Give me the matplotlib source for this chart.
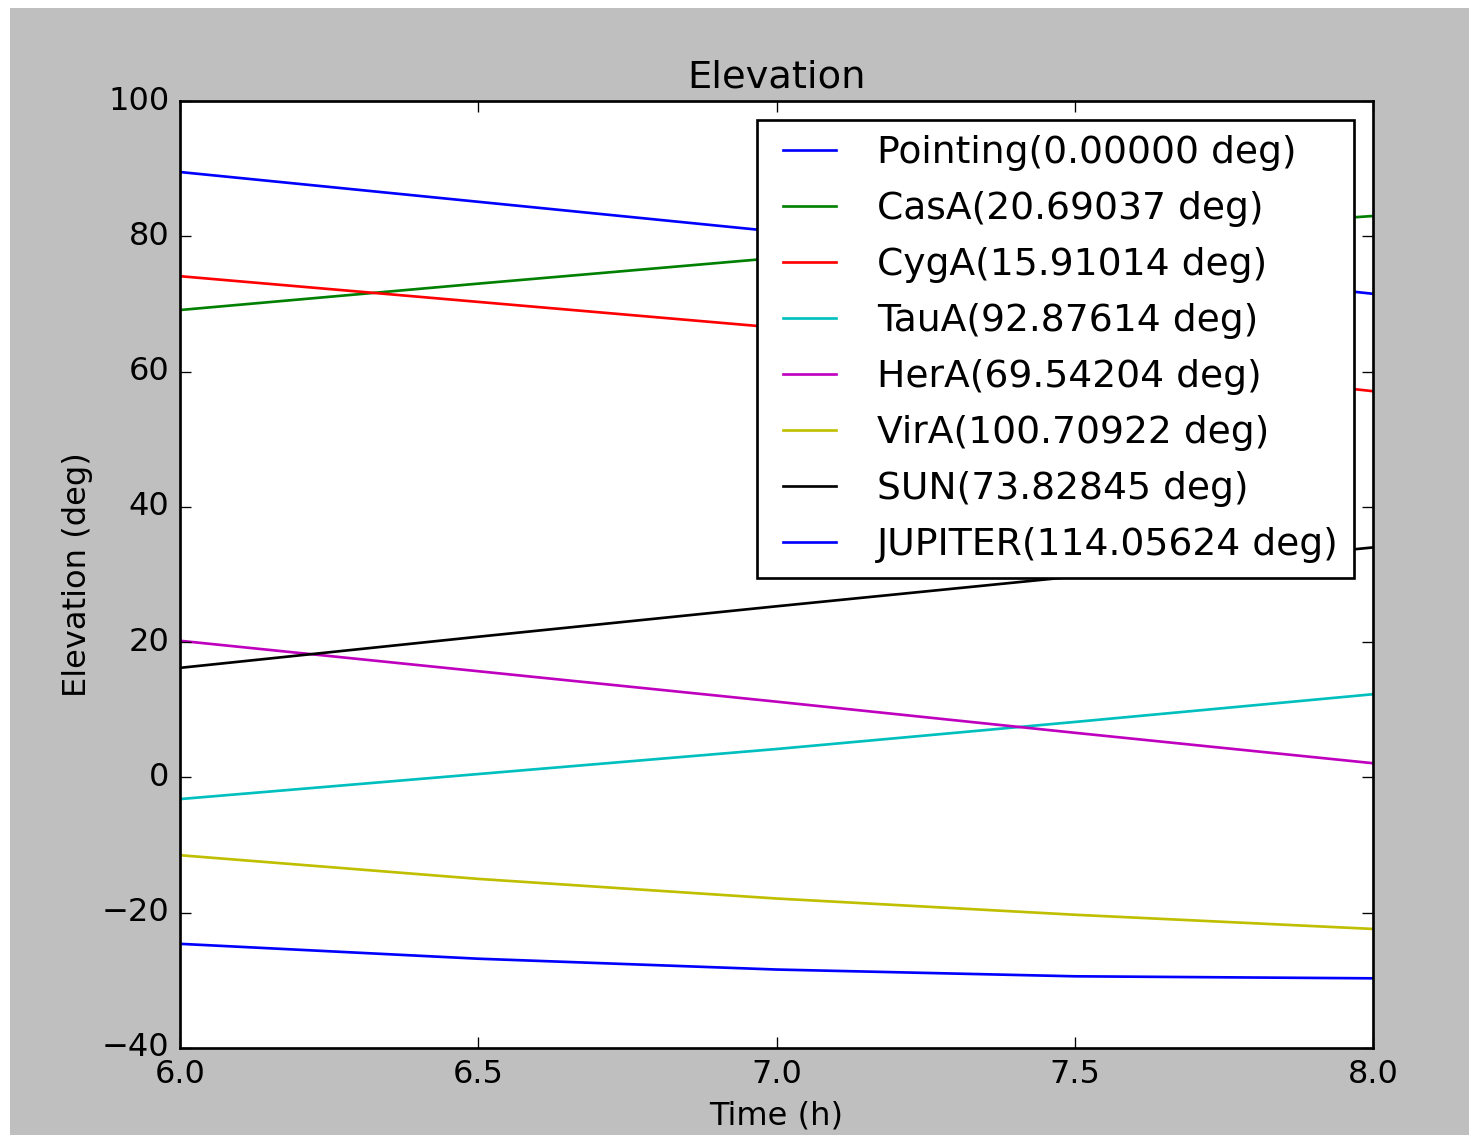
import matplotlib
matplotlib.use("Agg")
import matplotlib.pyplot as plt
from matplotlib.patches import Rectangle

plt.style.use("classic")

# Time samples (hours) and elevation of each source (degrees)
time_h = [6.0, 6.5, 7.0, 7.5, 8.0]

pointing = [89.5, 85.1, 80.7, 76.2, 71.5]
casa = [69.1, 73.0, 76.8, 80.0, 83.0]
cyga = [74.1, 70.3, 66.5, 61.9, 57.1]
taua = [-3.2, 0.5, 4.2, 8.2, 12.3]
hera = [20.2, 15.7, 11.2, 6.6, 2.1]
vira = [-11.5, -15.0, -17.9, -20.3, -22.4]
sun = [16.2, 20.8, 25.3, 29.7, 34.0]
jupiter = [-24.6, -26.8, -28.4, -29.4, -29.7]

names = ["Pointing", "CasA", "CygA", "TauA", "HerA", "VirA", "SUN", "JUPITER"]
separations = ["0.00000", "20.69037", "15.91014", "92.87614",
               "69.54204", "100.70922", "73.82845", "114.05624"]
series = [pointing, casa, cyga, taua, hera, vira, sun, jupiter]

xticks = [6.0, 6.5, 7.0, 7.5, 8.0]
yticks = [-40, -20, 0, 20, 40, 60, 80, 100]

dpi = 192.4
W, H = 1469, 1135
fig = plt.figure(figsize=(W / dpi, H / dpi), dpi=dpi)

# thin white margin along the top and left edges
fig.patches.append(Rectangle((0, 0), 10 / W, 1, transform=fig.transFigure,
                             facecolor="white", edgecolor="none", zorder=-1))
fig.patches.append(Rectangle((0, 1 - 8 / H), 1, 8 / H, transform=fig.transFigure,
                             facecolor="white", edgecolor="none", zorder=-1))

ax = fig.add_axes([180 / W, 1 - 1048 / H, (1373 - 180) / W, (1048 - 101) / H])

for name, sep, vals in zip(names, separations, series):
    ax.plot(time_h, vals, label=f"{name}({sep} deg)")

ax.set_xlim(6.0, 8.0)
ax.set_ylim(-40, 100)
ax.set_xticks(xticks)
ax.set_yticks(yticks)
ax.set_title("Elevation")
ax.set_xlabel("Time (h)", labelpad=4.0)
ax.set_ylabel("Elevation (deg)", labelpad=3.2)
ax.legend(loc="upper right", fontsize=14.1, labelspacing=0.53)

fig.savefig("out.png", dpi=dpi, facecolor=fig.get_facecolor())
